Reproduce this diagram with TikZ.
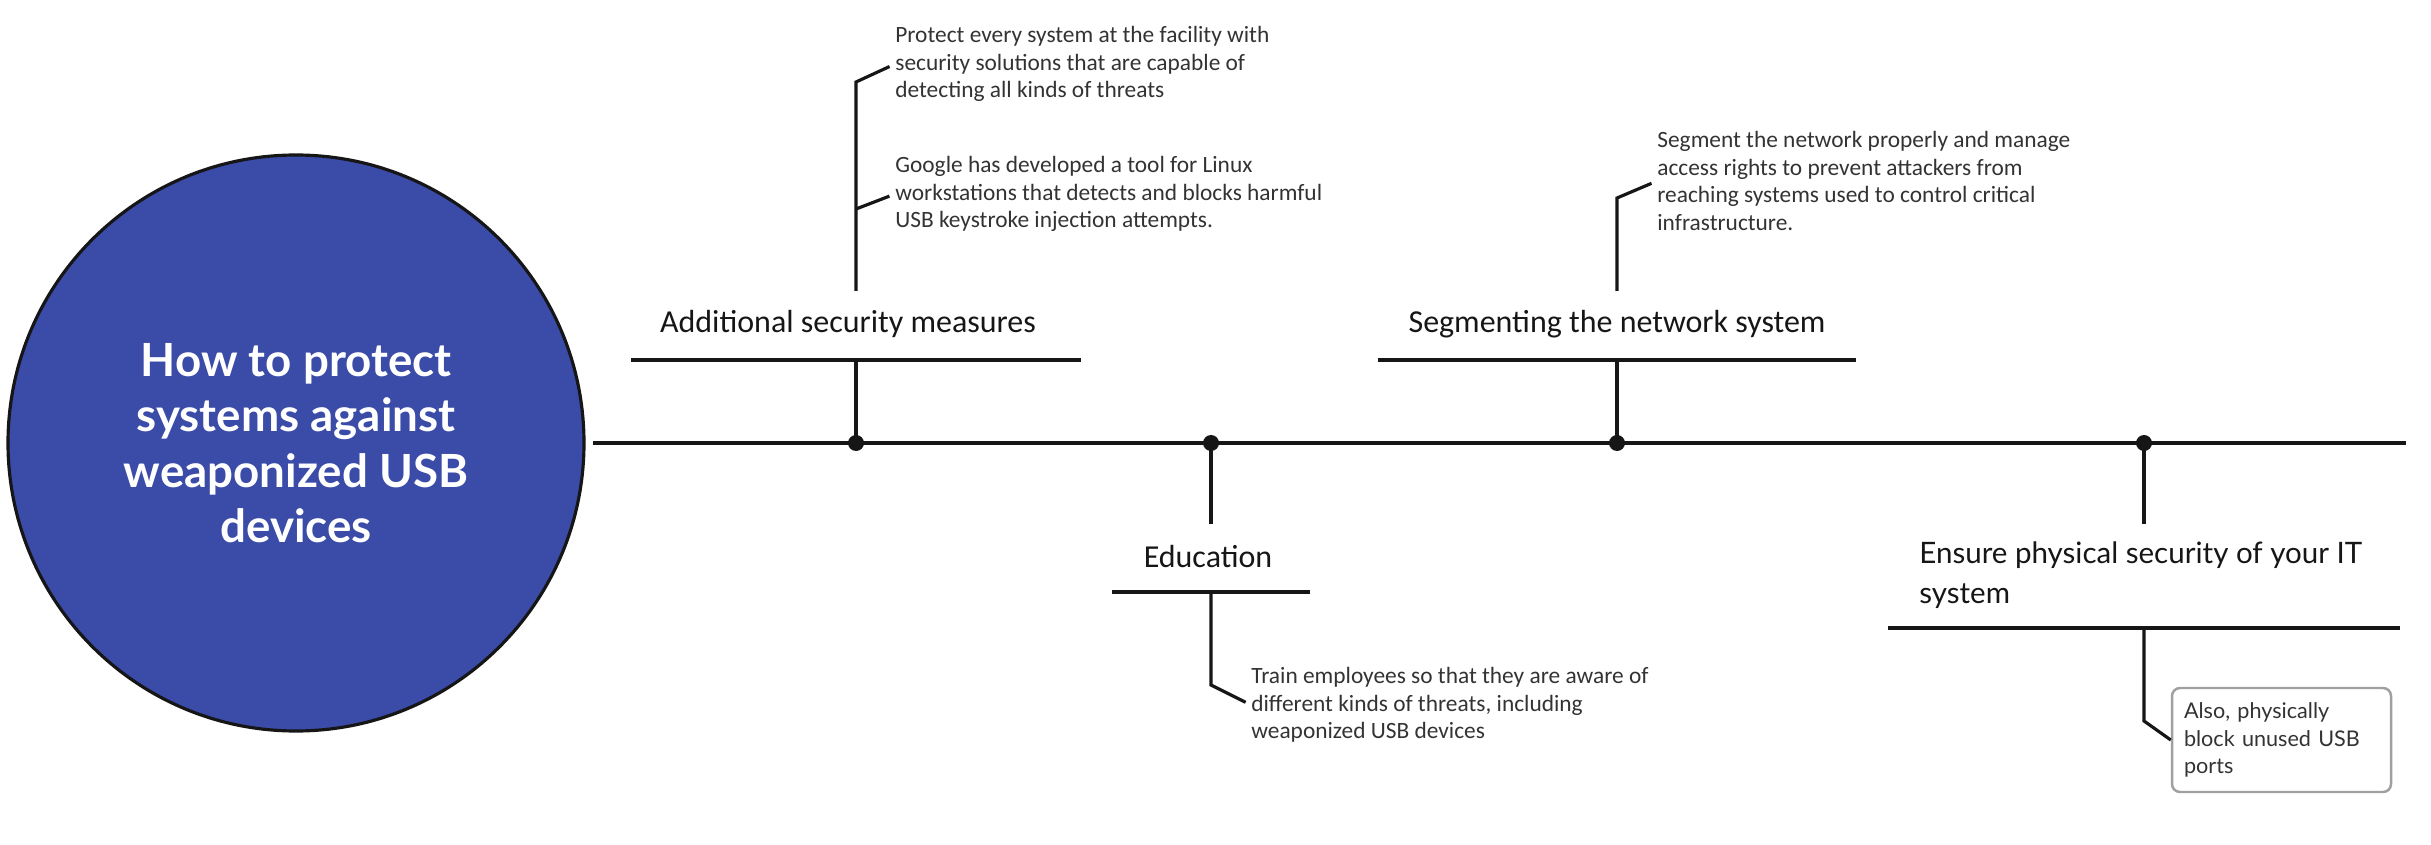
\documentclass[tikz,border=0pt]{standalone}
\usepackage{fontspec}
\setmainfont{Carlito}
\newfontfamily\latofont{Lato}
\usetikzlibrary{calc,positioning}

\definecolor{circleblue}{RGB}{58,75,168}
\definecolor{notegray}{RGB}{51,51,51}
\definecolor{boxgray}{RGB}{160,160,160}
\definecolor{inkblack}{RGB}{22,22,22}

\tikzset{
  spine/.style={line width=2.7pt,color=inkblack},
  branch/.style={line width=2.6pt,color=inkblack},
  leader/.style={line width=1.8pt,color=inkblack},
  joint/.style={circle,fill=inkblack,inner sep=0pt,minimum size=0.32cm},
  title/.style={font=\fontsize{18.2}{21}\selectfont,text=inkblack,inner sep=0pt},
  note/.style={font=\fontsize{13.3}{15.6}\selectfont,text=notegray,align=left,anchor=west,inner sep=0pt},
}

\begin{document}
\begin{tikzpicture}

\useasboundingbox (0,0) rectangle (48.62,16.88);
\coordinate (LEFTCORNER) at (0,0);

%draw center circle
\node[circle,minimum size=11.52cm,fill=circleblue,draw=inkblack,line width=1.8pt,text=white,align=center,font=\latofont\bfseries\fontsize{26}{31.5}\selectfont] at ($(LEFTCORNER)+(5.92,8.02)$) (CENTER) {How to protect\\systems against\\weaponized USB\\devices};

%draw spine
\coordinate (SPINEEND) at ($(LEFTCORNER)+(48.12,8.02)$);
\draw[spine,shorten <=0.14cm] (CENTER.east) -- (SPINEEND);

\node[joint] at ($(LEFTCORNER)+(17.12,8.02)$) (JOINT1) {};
\node[joint] at ($(LEFTCORNER)+(24.22,8.02)$) (JOINT2) {};
\node[joint] at ($(LEFTCORNER)+(32.34,8.02)$) (JOINT3) {};
\node[joint] at ($(LEFTCORNER)+(42.88,8.02)$) (JOINT4) {};

%%%%%%%%%%%%%%%%%%%%%

%branch 1: additional security measures
\coordinate (BAR1) at ($(JOINT1)+(0,1.66)$);
\draw[branch] (JOINT1.center) -- (BAR1);
\draw[branch] ($(BAR1)+(-4.50,0)$) -- ($(BAR1)+(4.50,0)$);
\node[title] at ($(BAR1)+(-0.16,0.72)$) (TITLE1) {Additional security measures};

\coordinate (STEM1) at ($(BAR1)+(0,1.38)$);
\coordinate (STEM1TOP) at ($(JOINT1)+(0,7.22)$);
\coordinate (FORK1) at ($(JOINT1)+(0,4.68)$);
\node[note] at ($(LEFTCORNER)+(17.90,15.60)$) (NOTE1A) {Protect every system at the facility with\\security solutions that are capable of\\detecting all kinds of threats};
\node[note] at ($(LEFTCORNER)+(17.90,13.00)$) (NOTE1B) {Google has developed a tool for Linux\\workstations that detects and blocks harmful\\USB keystroke injection attempts.};
\draw[leader,shorten >=0.12cm] (STEM1) -- (STEM1TOP) -- (NOTE1A.west);
\draw[leader,shorten >=0.12cm] (FORK1) -- (NOTE1B.west);

%%%%%%%

%branch 2: education
\coordinate (STUB2) at ($(JOINT2)+(0,-1.62)$);
\coordinate (BAR2) at ($(JOINT2)+(0,-2.98)$);
\draw[branch] (JOINT2.center) -- (STUB2);
\draw[branch] ($(BAR2)+(-1.98,0)$) -- ($(BAR2)+(1.98,0)$);
\node[title] at ($(BAR2)+(-0.06,0.70)$) (TITLE2) {Education};

\coordinate (STEM2) at ($(BAR2)+(0,-1.86)$);
\node[note] at ($(LEFTCORNER)+(25.02,2.78)$) (NOTE2) {Train employees so that they are aware of\\different kinds of threats, including\\weaponized USB devices};
\draw[leader,shorten >=0.12cm] (BAR2) -- (STEM2) -- (NOTE2.west);

%%%%%%%

%branch 3: segmenting the network
\coordinate (BAR3) at ($(JOINT3)+(0,1.66)$);
\draw[branch] (JOINT3.center) -- (BAR3);
\draw[branch] ($(BAR3)+(-4.78,0)$) -- ($(BAR3)+(4.78,0)$);
\node[title] at ($(BAR3)+(0,0.72)$) (TITLE3) {Segmenting the network system};

\coordinate (STEM3) at ($(BAR3)+(0,1.38)$);
\coordinate (STEM3TOP) at ($(JOINT3)+(0,4.90)$);
\node[note] at ($(LEFTCORNER)+(33.14,13.26)$) (NOTE3) {Segment the network properly and manage\\access rights to prevent attackers from\\reaching systems used to control critical\\infrastructure.};
\draw[leader,shorten >=0.12cm] (STEM3) -- (STEM3TOP) -- (NOTE3.west);

%%%%%%%

%branch 4: physical security
\coordinate (STUB4) at ($(JOINT4)+(0,-1.62)$);
\coordinate (BAR4) at ($(JOINT4)+(0,-3.70)$);
\draw[branch] (JOINT4.center) -- (STUB4);
\draw[branch] ($(BAR4)+(-5.12,0)$) -- ($(BAR4)+(5.12,0)$);
\node[title,font=\latofont\fontsize{16.8}{22.5}\selectfont,align=left,anchor=west] at ($(LEFTCORNER)+(38.38,5.38)$) (TITLE4) {Ensure physical security of your IT\\system};

\coordinate (STEM4) at ($(BAR4)+(0,-1.86)$);
\node[rectangle,rounded corners=0.16cm,draw=boxgray,line width=1.4pt,minimum width=4.38cm,minimum height=2.08cm,text width=3.9cm,align=left,inner sep=0.22cm,text=notegray,font=\latofont\fontsize{12.3}{15.6}\selectfont] at ($(LEFTCORNER)+(45.63,2.08)$) (NOTE4) {Also, physically\\block unused USB\\ports};
\draw[leader] (BAR4) -- (STEM4) -- (NOTE4.west);

%%%%%%%%%%%%%%%%%%%%%%

\end{tikzpicture}
\end{document}
